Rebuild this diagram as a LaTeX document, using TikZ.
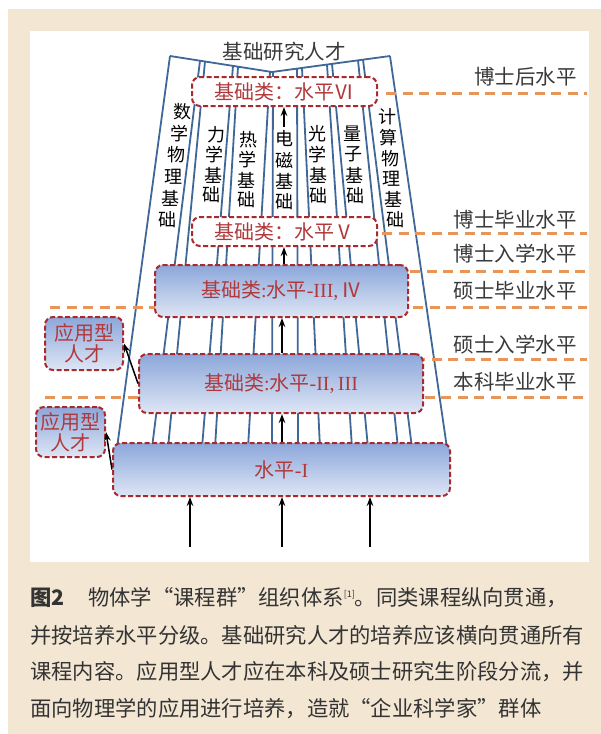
\documentclass[tikz,border=0pt]{standalone}
\usepackage{fontspec}
\usetikzlibrary{arrows.meta}
\newfontfamily\song{Noto Sans CJK SC}
\newfontfamily\hei{Noto Sans CJK SC}
\newfontfamily\lat{Liberation Serif}
\definecolor{beige}{HTML}{F3E7D4}
\definecolor{colblue}{HTML}{3F6899}
\definecolor{lvlorange}{HTML}{E9955A}
\definecolor{boxred}{HTML}{A8292E}
\definecolor{boxtext}{HTML}{B0393C}
\definecolor{gtop}{HTML}{8CA7DA}
\definecolor{gbot}{HTML}{DEE6F5}
\definecolor{labgray}{HTML}{3A3A3A}
\definecolor{capgray}{HTML}{333333}
\tikzset{
  colline/.style={draw=colblue, line width=1.8pt, line join=round},
  lvl/.style={draw=lvlorange, line width=3pt, dash pattern=on 10pt off 6.5pt},
  rbox/.style={draw=boxred, line width=2pt, dash pattern=on 5pt off 2.5pt, rounded corners=8pt,
    text=boxtext, font=\song\fontsize{20}{22}\selectfont, inner sep=0pt, align=center},
  gbox/.style={rbox, top color=gtop, bottom color=gbot},
  wbox/.style={rbox, fill=white},
  arr/.style={-{Stealth[length=9pt,width=6.5pt]}, line width=1.5pt, draw=black},
  lab/.style={font=\song\fontsize{20.5}{22}\selectfont, text=labgray, anchor=east, inner sep=0pt},
  colch/.style={font=\song\fontsize{18}{18}\selectfont, inner sep=0pt, text=black},
  captext/.style={font=\hei\fontsize{21.3}{25}\selectfont, text=capgray, anchor=west, inner sep=0pt}
}
\begin{document}
\begin{tikzpicture}[x=1pt,y=-1pt]
\useasboundingbox (0,0) rectangle (601,734);
% background
\fill[beige] (8,9) rectangle (601,734);
\fill[white] (30,31) rectangle (589,562);
% column lines
\foreach \xt/\yt/\xb in {170/56/117, 200/60.7/152, 205/61.5/168, 233/65.9/202, 238/66.7/215, 270/71.7/248, 273/71.9/272, 297/68.6/298, 302/67.9/320, 327/64.5/352, 332/63.9/368, 358/60.3/398, 363/59.7/412, 390/56/447}
  \draw[colline] (\xt,\yt) -- (\xb,448);
\draw[colline] (170,56) -- (272,72) -- (390,56);
% level lines
\draw[lvl] (386,93) -- (587,93);
\draw[lvl] (382,233) -- (587,233);
\draw[lvl] (410,271) -- (587,271);
\draw[lvl] (50,307) -- (587,307);
\draw[lvl] (415,359) -- (587,359);
\draw[lvl] (45,397) -- (587,397);
% level labels
\node[lab] (l1) at (577,77) {博士后水平};
\node[lab] (l2) at (577,220) {博士毕业水平};
\node[lab] (l3) at (577,254) {博士入学水平};
\node[lab] (l4) at (577,291) {硕士毕业水平};
\node[lab] (l5) at (577,345) {硕士入学水平};
\node[lab] (l6) at (577,382) {本科毕业水平};
% top label
\node[font=\song\fontsize{20.5}{22}\selectfont, inner sep=0pt, text=labgray] (top) at (284,52) {基础研究人才};
% boxes
\node[wbox, minimum width=185pt, minimum height=29pt] (b6) at (284.5,91.5) {基础类：水平Ⅵ};
\node[wbox, minimum width=185pt, minimum height=29pt] (b5) at (284.5,231.5) {基础类：水平Ⅴ};
\node[gbox, minimum width=253pt, minimum height=52pt] (b34) at (281.5,291) {基础类{\lat :}水平{\lat -III,\,}Ⅳ};
\node[gbox, minimum width=284pt, minimum height=59pt] (b23) at (281,383.5) {基础类{\lat :}水平{\lat -II,\,III}};
\node[gbox, minimum width=337pt, minimum height=53pt] (b1) at (281.5,469.5) {水平{\lat -I}};
\node[gbox, minimum width=78pt, minimum height=53pt] (app1) at (84,343.5) {应用型\\[-1pt]人才};
\node[gbox, minimum width=69pt, minimum height=50pt] (app2) at (70.5,432) {应用型\\[-1pt]人才};
% column texts
\foreach \ch [count=\i from 0] in {数,学,物,理,基,础}
  \node[colch] (c1-\i) at ({182-3*\i},{112+21.5*\i}) {\ch};
\foreach \ch [count=\i from 0] in {力,学,基,础}
  \node[colch] (c2-\i) at ({216-1.5*\i},{135+20*\i}) {\ch};
\foreach \ch [count=\i from 0] in {热,学,基,础}
  \node[colch] (c3-\i) at ({248-0.6*\i},{140+20*\i}) {\ch};
\foreach \ch [count=\i from 0] in {电,磁,基,础}
  \node[colch] (c4-\i) at (284,{139+21*\i}) {\ch};
\foreach \ch [count=\i from 0] in {光,学,基,础}
  \node[colch] (c5-\i) at ({317+0.6*\i},{134+20.5*\i}) {\ch};
\foreach \ch [count=\i from 0] in {量,子,基,础}
  \node[colch] (c6-\i) at ({352+1*\i},{134+20.5*\i}) {\ch};
\foreach \ch [count=\i from 0] in {计,算,物,理,基,础}
  \node[colch] (c7-\i) at ({387+1.6*\i},{117+20.6*\i}) {\ch};
% vertical arrows
\coordinate (s1) at (190,547);
\coordinate (s2) at (282,547);
\coordinate (s3) at (370,547);
\draw[arr] (s1) -- (s1 |- b1.south);
\draw[arr] (s2) -- (s2 |- b1.south);
\draw[arr] (s3) -- (s3 |- b1.south);
\draw[arr] (282,0 |- b1.north) -- (282,0 |- b23.south);
\draw[arr] (282,0 |- b23.north) -- (282,0 |- b34.south);
\draw[arr] (284,0 |- b34.north) -- (284,0 |- b5.south);
\coordinate (e6) at (284,127);
\draw[arr] (e6) -- (e6 |- b6.south);
% applied arrows
\draw[arr] (b23.west) -- (app1.east);
\draw[arr] (b1.west) -- (app2.east);
% caption
\node[captext] (cap1a) at (30,598) {\bfseries 图2};
\node[captext] (cap1b) at (88,598) {\XeTeXlinebreaklocale "zh"\XeTeXlinebreakskip=0pt plus 3pt\makebox[497pt][s]{物体学“课程群”组织体系{\fontsize{9}{9}\selectfont\raisebox{8pt}{[1]}}。同类课程纵向贯通，}};
\node[captext] (cap2) at (30,635) {并按培养水平分级。基础研究人才的培养应该横向贯通所有};
\node[captext] (cap3) at (30,672) {课程内容。应用型人才应在本科及硕士研究生阶段分流，并};
\node[captext] (cap4) at (30,709) {面向物理学的应用进行培养，造就“企业科学家”群体};
\end{tikzpicture}
\end{document}
